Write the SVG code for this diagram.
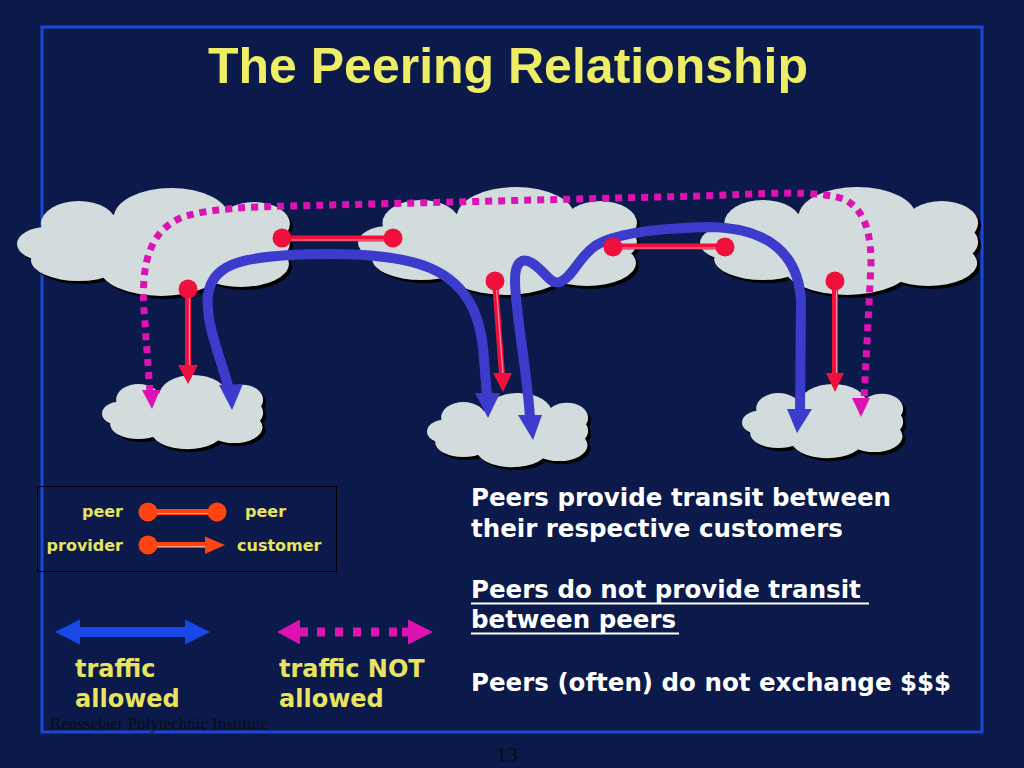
<svg xmlns="http://www.w3.org/2000/svg" xmlns:xlink="http://www.w3.org/1999/xlink" width="1024" height="768" viewBox="0 0 1024 768">
<style>
.bg{fill:#0b1a4a}
.frame{fill:none;stroke:#1c46d8;stroke-width:3}
.title{font-family:"Liberation Sans",Arial,sans-serif;font-weight:bold;font-size:50px;fill:#eeee66}
.body{font-family:"DejaVu Sans","Liberation Sans",sans-serif;font-weight:bold;font-size:24.5px;fill:#ffffff}
.leg{font-family:"DejaVu Sans","Liberation Sans",sans-serif;font-weight:bold;font-size:16px;fill:#e8e462}
.big{font-family:"DejaVu Sans","Liberation Sans",sans-serif;font-weight:bold;font-size:24px;fill:#e8e462}
.foot{font-family:"Liberation Serif","Times New Roman",serif;fill:#0a0a12}
.blue{fill:none;stroke:#3b3bcc;stroke-width:10;stroke-linecap:butt}
.bluehead{fill:#3b3bcc}
.mag{fill:none;stroke:#dc12b2;stroke-width:7;stroke-dasharray:7 6}
.maghead{fill:#dc12b2}
.red{stroke:#f0103c;stroke-width:6;fill:none}
.redin{stroke:#ff8aa0;stroke-width:1.2;fill:none}
.redfill{fill:#f0103c}
.org{stroke:#ff4414;stroke-width:6;fill:none}
.orgin{stroke:#ffa080;stroke-width:1.2;fill:none}
.orgfill{fill:#ff4414}
.shadow{fill:#000000}
.cloudfill{fill:#d3dcdd}
</style>
<defs>
<g id="cloud">
<ellipse cx="30" cy="56" rx="30" ry="17"/>
<ellipse cx="62" cy="36" rx="38" ry="23"/>
<ellipse cx="155" cy="30" rx="58" ry="30"/>
<ellipse cx="238" cy="36" rx="36" ry="22"/>
<ellipse cx="250" cy="55" rx="24" ry="18"/>
<ellipse cx="225" cy="76" rx="48" ry="23"/>
<ellipse cx="145" cy="80" rx="62" ry="28"/>
<ellipse cx="62" cy="72" rx="48" ry="21"/>
<ellipse cx="140" cy="55" rx="115" ry="30"/>
</g>
</defs>
<rect class="bg" x="0" y="0" width="1024" height="768"/>
<rect class="frame" x="42" y="27" width="940" height="705"/>
<text class="title" x="508" y="83" text-anchor="middle">The Peering Relationship</text>

<g id="cloud-top-left">
<use xlink:href="#cloud" class="shadow" transform="translate(20,191) scale(0.996,1)"/>
<use xlink:href="#cloud" class="cloudfill" transform="translate(17,188) scale(0.996,1)"/>
</g>
<g id="cloud-top-middle">
<use xlink:href="#cloud" class="shadow" transform="translate(361,190) scale(1.018,1)"/>
<use xlink:href="#cloud" class="cloudfill" transform="translate(358,187) scale(1.018,1)"/>
</g>
<g id="cloud-top-right">
<use xlink:href="#cloud" class="shadow" transform="translate(703,190) scale(1.015,1)"/>
<use xlink:href="#cloud" class="cloudfill" transform="translate(700,187) scale(1.015,1)"/>
</g>
<g id="cloud-bottom-left">
<use xlink:href="#cloud" class="shadow" transform="translate(105,378) scale(0.588,0.688)"/>
<use xlink:href="#cloud" class="cloudfill" transform="translate(102,375) scale(0.588,0.688)"/>
</g>
<g id="cloud-bottom-middle">
<use xlink:href="#cloud" class="shadow" transform="translate(430,396) scale(0.588,0.688)"/>
<use xlink:href="#cloud" class="cloudfill" transform="translate(427,393) scale(0.588,0.688)"/>
</g>
<g id="cloud-bottom-right">
<use xlink:href="#cloud" class="shadow" transform="translate(745,387) scale(0.588,0.688)"/>
<use xlink:href="#cloud" class="cloudfill" transform="translate(742,384) scale(0.588,0.688)"/>
</g>

<g id="connectors">
<path class="mag" d="M 150,392 L 144,310 C 141,262 150,228 186,216 C 215,208 250,207 290,206 L 700,196 C 760,194 820,189 846,200 C 866,212 871,235 871,265 L 864,400"/>
<polygon class="maghead" points="142,390 160,390 152,409"/>
<polygon class="maghead" points="852,398 870,398 861,417"/>
<path class="blue" d="M 229,390 C 222,360 205,325 208,295 C 212,265 240,258 290,255 C 350,252 400,255 430,268 C 470,285 482,320 484,360 L 487,395"/>
<polygon class="bluehead" points="219,385 243,384 232,410"/>
<polygon class="bluehead" points="475,393 500,393 488,418"/>
<path class="blue" d="M 530,418 C 527,370 515,310 515,280 C 515,262 522,257 532,263 C 545,271 550,285 560,282 C 572,278 578,258 595,246 C 615,233 660,228 710,227 C 770,228 798,255 801,300 L 800,412"/>
<polygon class="bluehead" points="518,415 542,415 533,440"/>
<polygon class="bluehead" points="787,409 812,409 797,433"/>
<line class="red" x1="282" y1="238.5" x2="393" y2="238.5"/>
<line class="redin" x1="290" y1="240" x2="385" y2="240"/>
<circle class="redfill" cx="282" cy="238" r="9.5"/>
<circle class="redfill" cx="393" cy="238" r="9.5"/>
<line class="red" x1="613" y1="246.5" x2="725" y2="246.5"/>
<line class="redin" x1="621" y1="248" x2="717" y2="248"/>
<circle class="redfill" cx="613" cy="247" r="9.5"/>
<circle class="redfill" cx="725" cy="247" r="9.5"/>
<line class="red" x1="188" y1="290" x2="188" y2="367"/>
<line class="redin" x1="189.5" y1="298" x2="189.5" y2="366"/>
<polygon class="redfill" points="178,365 198,365 188,384"/>
<circle class="redfill" cx="188" cy="289" r="9.5"/>
<line class="red" x1="495" y1="281" x2="502" y2="375"/>
<line class="redin" x1="496.5" y1="289" x2="503" y2="374"/>
<polygon class="redfill" points="493,373 512,373 503,392"/>
<circle class="redfill" cx="495" cy="281" r="9.5"/>
<line class="red" x1="835" y1="281" x2="835" y2="375"/>
<line class="redin" x1="836.5" y1="289" x2="836.5" y2="374"/>
<polygon class="redfill" points="826,373 844,373 835,392"/>
<circle class="redfill" cx="835" cy="281" r="9.5"/>
</g>

<g id="legend">
<rect x="37.5" y="486.5" width="299" height="85" fill="none" stroke="#000000" stroke-width="1"/>
<text class="leg" x="123" y="517" text-anchor="end">peer</text>
<line class="org" x1="148" y1="512" x2="217" y2="512"/>
<line class="orgin" x1="156" y1="513.5" x2="209" y2="513.5"/>
<circle class="orgfill" cx="148" cy="512" r="9.5"/>
<circle class="orgfill" cx="217" cy="512" r="9.5"/>
<text class="leg" x="245" y="517">peer</text>
<text class="leg" x="123" y="551" text-anchor="end">provider</text>
<line class="org" x1="148" y1="545" x2="207" y2="545"/>
<line class="orgin" x1="156" y1="546.5" x2="205" y2="546.5"/>
<circle class="orgfill" cx="148" cy="545" r="9.5"/>
<polygon class="orgfill" points="205,536.5 205,554 225,545"/>
<text class="leg" x="237" y="551">customer</text>
</g>

<g id="legend-allowed">
<polygon fill="#1848e8" points="55,632 80,619.5 80,627 185,627 185,619.5 210,632 185,644.5 185,637 80,637 80,644.5"/>
<text class="big" x="75" y="677">traffic</text>
<text class="big" x="75" y="707">allowed</text>
</g>
<g id="legend-not-allowed">
<polygon class="maghead" points="277,632 300,619.5 300,627.5 308,627.5 308,636.5 300,636.5 300,644.5"/>
<line x1="317" y1="632" x2="400" y2="632" stroke="#dc12b2" stroke-width="9" stroke-dasharray="8 10"/>
<polygon class="maghead" points="433,632 408,619.5 408,627.5 402,627.5 402,636.5 408,636.5 408,644.5"/>
<text class="big" x="279" y="677">traffic NOT</text>
<text class="big" x="279" y="707">allowed</text>
</g>

<g id="notes">
<text class="body" x="471" y="506">Peers provide transit between</text>
<text class="body" x="471" y="537">their respective customers</text>
<text class="body" x="471" y="598">Peers do not provide transit</text>
<line x1="471" y1="603.5" x2="869" y2="603.5" stroke="#ffffff" stroke-width="2"/>
<text class="body" x="471" y="628">between peers</text>
<line x1="471" y1="633.5" x2="679" y2="633.5" stroke="#ffffff" stroke-width="2"/>
<text class="body" x="471" y="691">Peers (often) do not exchange $$$</text>
</g>

<text class="foot" x="50" y="729" font-size="16.5" textLength="218" lengthAdjust="spacing">Rensselaer Polytechnic Institute</text>
<text class="foot" x="496" y="762" font-size="22">13</text>
</svg>
